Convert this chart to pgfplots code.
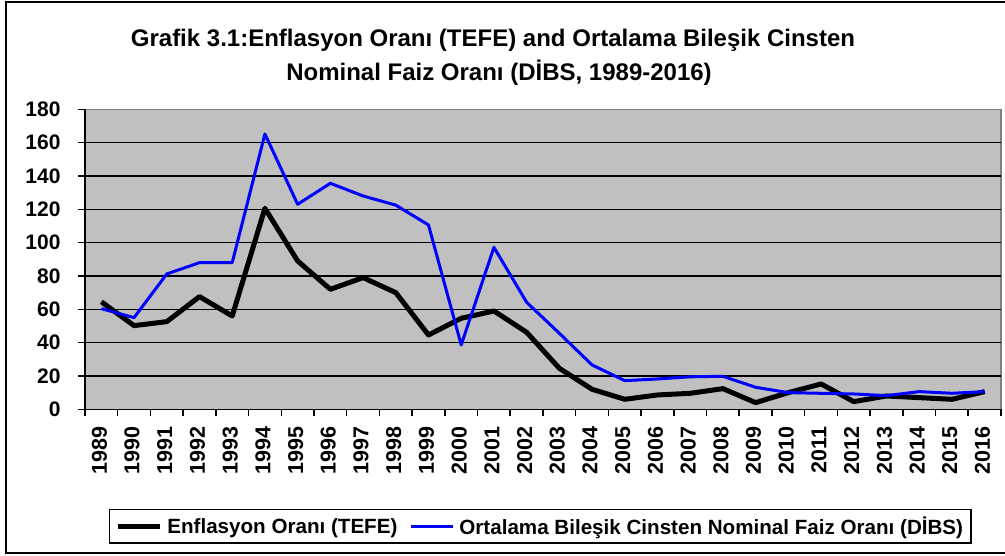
\documentclass[border=0pt]{standalone}
\usepackage{pgfplots}
\pgfplotsset{compat=1.18}
\usepackage{fontspec}
\setmainfont{Liberation Sans}
\definecolor{plotgray}{HTML}{C0C0C0}
\definecolor{framegray}{HTML}{808080}
\definecolor{dibsblue}{HTML}{0000FF}
\begin{document}
\begin{tikzpicture}[x=1pt,y=1pt]
\useasboundingbox (0,0) rectangle (1005,555);
\fill[white] (0,0) rectangle (1005,555);
\draw[black, line width=2pt] (6,2) rectangle (1010,553);
\node[font=\fontsize{24}{26}\selectfont\bfseries] at (493,515) {Grafik 3.1:Enflasyon Oranı (TEFE) and Ortalama Bileşik Cinsten};
\node[font=\fontsize{24}{26}\selectfont\bfseries] at (499,482) {Nominal Faiz Oranı (DİBS, 1989-2016)};
\begin{axis}[
  at={(85pt,145.7pt)}, anchor=south west,
  scale only axis, width=916pt, height=300pt,
  xmin=1988.5, xmax=2016.5, ymin=0, ymax=180,
  axis lines=left,
  axis line style={-, line width=1.5pt, black},
  axis background/.style={fill=plotgray, draw=framegray, line width=1.5pt},
  /pgf/number format/1000 sep={},
  /pgf/number format/assume math mode=true,
  xtick={1989,...,2016},
  ytick={0,20,...,160},
  extra y ticks={180},
  extra y tick style={grid=none},
  minor xtick={1988.5,1989.5,...,2016.5},
  minor ytick={0,20,...,180},
  tick align=outside,
  major tick length=0pt,
  minor tick length=7pt,
  minor tick style={line width=1.5pt, black},
  ymajorgrids,
  major grid style={line width=1.5pt, black},
  xticklabel style={font=\fontsize{21.5}{21.5}\selectfont\bfseries, rotate=90, anchor=east, xshift=-14pt, yshift=2pt},
  yticklabel style={font=\fontsize{21}{21}\selectfont\bfseries, xshift=-21pt},
  legend columns=2,
  legend style={at={(axis description cs:0.497,-0.39)}, anchor=center,
    draw=black, line width=1.5pt, fill=white,
    font=\fontsize{20.6}{22}\selectfont\bfseries,
    inner xsep=6pt, inner ysep=5pt,
    /tikz/every odd column/.append style={column sep=3pt},
    /tikz/every even column/.append style={column sep=10pt}},
  legend image code/.code={\draw[#1] (0pt,0pt) -- (42pt,0pt);},
]
\addplot[black, line width=5pt, line join=round] coordinates {
(1989,64.5) (1990,50.2) (1991,52.6) (1992,67.6) (1993,56) (1994,120.6)
(1995,89) (1996,72) (1997,79) (1998,70) (1999,44.6) (2000,54.6)
(2001,59) (2002,46.2) (2003,24.6) (2004,12) (2005,6) (2006,8.6)
(2007,9.6) (2008,12.4) (2009,4) (2010,10) (2011,15.2) (2012,4.6)
(2013,8) (2014,7) (2015,6) (2016,10.6)};
\addlegendentry{Enflasyon Oranı (TEFE)}
\addplot[dibsblue, line width=3pt, line join=round] coordinates {
(1989,60.4) (1990,55) (1991,81.2) (1992,88) (1993,88) (1994,165.2)
(1995,123) (1996,135.6) (1997,128) (1998,122.5) (1999,110.6) (2000,38.6)
(2001,97.2) (2002,64.2) (2003,45.6) (2004,26.6) (2005,17.2) (2006,18.2)
(2007,19.5) (2008,19.8) (2009,13.2) (2010,10) (2011,9.6) (2012,9.2)
(2013,8.2) (2014,10.6) (2015,9.6) (2016,10.6)};
\addlegendentry{Ortalama Bileşik Cinsten Nominal Faiz Oranı (DİBS)}
\end{axis}
\end{tikzpicture}
\end{document}
